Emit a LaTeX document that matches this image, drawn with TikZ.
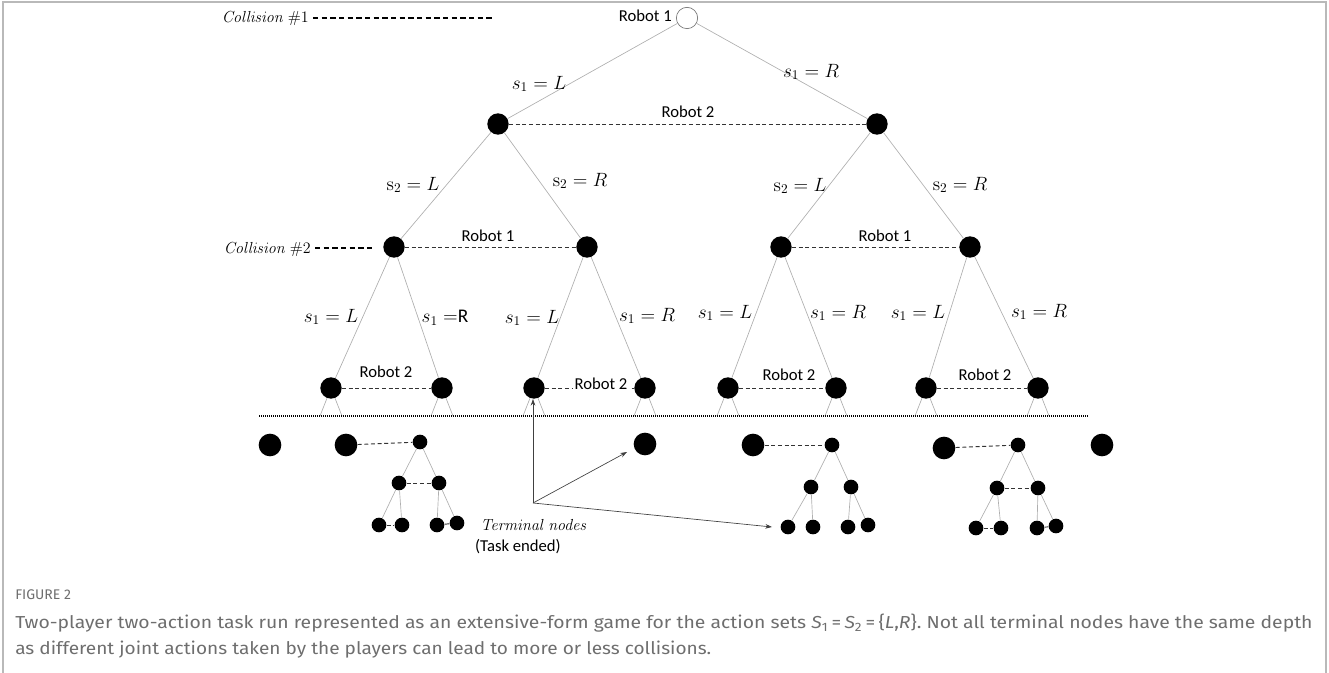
\documentclass[tikz,border=0pt]{standalone}
\usepackage[no-math]{fontspec}
\setmainfont{Carlito}
\newfontfamily\capfont{Fira Sans}
\usetikzlibrary{arrows.meta}
\definecolor{capgray}{RGB}{110,110,110}
\definecolor{edgegray}{RGB}{175,175,175}
\definecolor{framegray}{RGB}{185,185,185}
\tikzset{
  bigdot/.style={circle,fill=black,inner sep=0pt,minimum size=16pt},
  btdot/.style={circle,fill=black,inner sep=0pt,minimum size=17pt},
  smdot/.style={circle,fill=black,inner sep=0pt,minimum size=11pt},
  rootdot/.style={circle,draw=black!55,fill=white,inner sep=0pt,minimum size=16pt,line width=0.5pt},
  edge/.style={draw=edgegray,line width=0.5pt},
  info/.style={draw=black!80,line width=0.7pt,dash pattern=on 3pt off 2pt},
  infosolid/.style={draw=black!80,line width=0.7pt},
  coll/.style={draw=black,line width=1.3pt,dash pattern=on 4pt off 2.5pt},
  arr/.style={draw=black!75,line width=0.5pt,-{Stealth[length=5pt,width=3.5pt]}},
  lbl/.style={inner sep=0pt,font=\fontsize{12.5}{15}\selectfont},
  mlbl/.style={inner sep=0pt,font=\fontsize{14.5}{17}\selectfont},
  clbl/.style={inner sep=0pt,font=\fontsize{13.2}{16}\selectfont},
  dotline/.style={draw=black,line width=0.9pt,dash pattern=on 0.75pt off 0.75pt}
}
\begin{document}
\begin{tikzpicture}[x=0.75pt,y=-0.75pt]
\useasboundingbox (0,0) rectangle (1329,673);
% frame
\coordinate (f1) at (3,673);
\coordinate (f2) at (3,2);
\coordinate (f3) at (1326,2);
\coordinate (f4) at (1326,673);
\draw[draw=framegray,line width=0.9pt] (f1) -- (f2) -- (f3) -- (f4);

% main tree nodes
\node[rootdot] (r) at (687,18) {};
\node[bigdot] (A) at (498,124) {};
\node[bigdot] (B) at (877,124) {};
\node[bigdot] (a1) at (394,247) {};
\node[bigdot] (a2) at (587,247) {};
\node[bigdot] (b1) at (781,247) {};
\node[bigdot] (b2) at (970,247) {};
\node[bigdot] (c1) at (331,388) {};
\node[bigdot] (c2) at (442,388) {};
\node[bigdot] (c3) at (534,388) {};
\node[bigdot] (c4) at (645,388) {};
\node[bigdot] (c5) at (728,388) {};
\node[bigdot] (c6) at (836,388) {};
\node[bigdot] (c7) at (926,388) {};
\node[bigdot] (c8) at (1038,388) {};

% edges
\draw[edge] (r) -- (A);
\draw[edge] (r) -- (B);
\draw[edge] (A) -- (a1);
\draw[edge] (A) -- (a2);
\draw[edge] (B) -- (b1);
\draw[edge] (B) -- (b2);
\draw[edge] (a1) -- (c1);
\draw[edge] (a1) -- (c2);
\draw[edge] (a2) -- (c3);
\draw[edge] (a2) -- (c4);
\draw[edge] (b1) -- (c5);
\draw[edge] (b1) -- (c6);
\draw[edge] (b2) -- (c7);
\draw[edge] (b2) -- (c8);

% stubs to the dotted line
\foreach \n/\x in {c1/331,c2/442,c3/534,c4/645,c5/728,c6/836,c7/926,c8/1038}{
  \coordinate (\n l) at (\x-11,416);
  \coordinate (\n r) at (\x+11,416);
  \draw[edge] (\n) -- (\n l);
  \draw[edge] (\n) -- (\n r);
}
\coordinate (dl) at (259,416);
\coordinate (dr) at (1088,416);
\draw[dotline] (dl) -- (dr);

% information sets
\draw[info] (A) -- (B);
\draw[info] (a1) -- (a2);
\draw[info] (b1) -- (b2);
\draw[info] (c1) -- (c2);
\draw[info] (c3) -- (c4);
\draw[info] (c5) -- (c6);
\draw[info] (c7) -- (c8);

% labels
\node[lbl,anchor=east] (lr1) at (672,16) {Robot 1};
\node[mlbl] (l1) at (539,84) {$s_1 = L$};
\node[mlbl] (l2) at (811,72) {$s_1 = R$};
\node[lbl] (l3) at (688,112) {Robot 2};
\node[mlbl] (l4) at (413,185) {$\mathrm{s}_2 = L$};
\node[mlbl] (l5) at (580,181) {$\mathrm{s}_2 = R$};
\node[mlbl] (l6) at (800,186) {$\mathrm{s}_2 = L$};
\node[mlbl] (l7) at (960,185) {$\mathrm{s}_2 = R$};
\node[lbl] (l8) at (488,236) {Robot 1};
\node[lbl] (l9) at (885,236) {Robot 1};
\node[mlbl] (m1) at (331,317) {$s_1 = L$};
\node[mlbl] (m2) at (445,318) {$s_1 =$R};
\node[mlbl] (m3) at (532,318) {$s_1 = L$};
\node[mlbl] (m4) at (647,316) {$s_1 = R$};
\node[mlbl] (m5) at (725,313) {$s_1 = L$};
\node[mlbl] (m6) at (838,313) {$s_1 = R$};
\node[mlbl] (m7) at (918,313) {$s_1 = L$};
\node[mlbl] (m8) at (1039,312) {$s_1 = R$};
\node[lbl] (n1) at (386,372) {Robot 2};
\node[lbl,fill=white,inner sep=1pt] (n2) at (601,384) {Robot 2};
\node[lbl] (n3) at (789,375) {Robot 2};
\node[lbl] (n4) at (985,375) {Robot 2};

% collisions
\node[clbl,anchor=east] (k1) at (309,19) {$\mathit{Collision}\ \#1$};
\coordinate (k1e) at (493,18);
\draw[coll] (k1.east) ++(4,-1) coordinate (k1s) (k1s) -- (k1e);
\node[clbl,anchor=east] (k2) at (311,250) {$\mathit{Collision}\ \#2$};
\coordinate (k2e) at (373,248);
\draw[coll] (k2.east) ++(4,-2) coordinate (k2s) (k2s) -- (k2e);

% bottom subtrees
\node[btdot] (T1) at (270,445) {};
\node[btdot] (T2) at (346,445) {};
\node[smdot] (t2) at (420,442) {};
\node[smdot] (t2m1) at (399,483) {};
\node[smdot] (t2m2) at (439,483) {};
\node[smdot] (t2b1) at (379,525) {};
\node[smdot] (t2b2) at (402,525) {};
\node[smdot] (t2b3) at (437,525) {};
\node[smdot] (t2b4) at (457,523) {};
\draw[info] (T2) -- (t2);
\draw[edge] (t2) -- (t2m1);
\draw[edge] (t2) -- (t2m2);
\draw[info] (t2m1) -- (t2m2);
\draw[edge] (t2m1) -- (t2b1);
\draw[edge] (t2m1) -- (t2b2);
\draw[edge] (t2m2) -- (t2b3);
\draw[edge] (t2m2) -- (t2b4);
\draw[info] (t2b1) -- (t2b2);
\draw[infosolid] (t2b3) -- (t2b4);

\node[btdot] (T3) at (645,444) {};

\node[btdot] (T4) at (753,445) {};
\node[smdot] (t4) at (832,445) {};
\node[smdot] (t4m1) at (811,487) {};
\node[smdot] (t4m2) at (851,487) {};
\node[smdot] (t4b1) at (788,527) {};
\node[smdot] (t4b2) at (813,527) {};
\node[smdot] (t4b3) at (848,527) {};
\node[smdot] (t4b4) at (868,525) {};
\draw[info] (T4) -- (t4);
\draw[edge] (t4) -- (t4m1);
\draw[edge] (t4) -- (t4m2);
\draw[edge] (t4m1) -- (t4b1);
\draw[edge] (t4m1) -- (t4b2);
\draw[edge] (t4m2) -- (t4b3);
\draw[edge] (t4m2) -- (t4b4);

\node[btdot] (T5) at (944,448) {};
\node[smdot] (t5) at (1018,445) {};
\node[smdot] (t5m1) at (997,488) {};
\node[smdot] (t5m2) at (1038,488) {};
\node[smdot] (t5b1) at (976,528) {};
\node[smdot] (t5b2) at (1001,528) {};
\node[smdot] (t5b3) at (1037,528) {};
\node[smdot] (t5b4) at (1056,526) {};
\draw[info] (T5) -- (t5);
\draw[edge] (t5) -- (t5m1);
\draw[edge] (t5) -- (t5m2);
\draw[info] (t5m1) -- (t5m2);
\draw[edge] (t5m1) -- (t5b1);
\draw[edge] (t5m1) -- (t5b2);
\draw[edge] (t5m2) -- (t5b3);
\draw[edge] (t5m2) -- (t5b4);
\draw[info] (t5b1) -- (t5b2);
\draw[infosolid] (t5b3) -- (t5b4);

\node[btdot] (T6) at (1102,445) {};

% terminal nodes annotation
\coordinate (o) at (533,503);
\coordinate (e1) at (533,399);
\coordinate (e2) at (627,452);
\coordinate (e3) at (772,527);
\draw[arr] (o) -- (e1);
\draw[arr] (o) -- (e2);
\draw[arr] (o) -- (e3);
\node[clbl] (tn) at (534,525) {$\mathit{Terminal\ nodes}$};
\node[lbl] (te) at (518,547) {(Task ended)};

% caption
\node[anchor=west,inner sep=0pt,text=capgray,font=\capfont\fontsize{10.5}{12}\selectfont] (cap0) at (15,595) {FIGURE 2};
\node[anchor=west,inner sep=0pt,text=capgray,font=\capfont\fontsize{13}{15}\selectfont] (cap1) at (15,623)
  {\resizebox{973pt}{\height}{Two-player two-action task run represented as an extensive-form game for the action sets \textit{S}\textsubscript{1}\,=\,\textit{S}\textsubscript{2}\,=\,\{\textit{L},\textit{R}\}. Not all terminal nodes have the same depth}};
\node[anchor=west,inner sep=0pt,text=capgray,font=\capfont\fontsize{13}{15}\selectfont] (cap2) at (15,650)
  {\resizebox{522pt}{\height}{as different joint actions taken by the players can lead to more or less collisions.}};
\end{tikzpicture}
\end{document}
